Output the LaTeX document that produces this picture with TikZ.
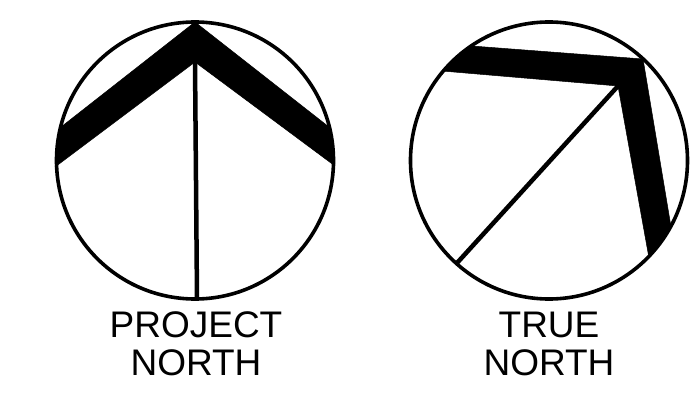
\documentclass[tikz,border=0pt]{standalone}
\usepackage{fontspec}
\setmainfont{Liberation Sans}
\usetikzlibrary{calc}
\begin{document}
\begin{tikzpicture}[
x=1pt,y=-1pt,
dial/.style={draw,circle,line width=3.6pt,minimum size=277pt,inner sep=0pt},
needle/.style={line width=4.5pt},
band/.style={fill=black,draw=black,line width=0.5pt,line join=round},
caption/.style={align=center,font=\fontsize{37}{38}\selectfont,inner sep=0pt},]
\useasboundingbox (0,0) rectangle (691,393);

\node[dial] (project) at (195,160.5) {};
\coordinate (pTip) at (195,22);
\coordinate (pLeftOut) at (61,127);
\coordinate (pLeftIn) at (55,167);
\coordinate (pRightOut) at (329,127);
\coordinate (pRightIn) at (335,166);
\coordinate (pInner) at (195,62);
\coordinate (pFoot) at (197,299);
\draw[band] (pTip) -- (pRightOut) -- (pRightIn) -- (pInner) -- (pLeftIn) -- (pLeftOut) -- cycle;
\draw[needle] (pInner) -- (pFoot);
\node[caption] (projectText) at (196,344) {PROJECT\\NORTH};

\node[dial] (true) at (549,160.5) {};
\coordinate (tTip) at (643,59);
\coordinate (tLeftOut) at (472,46);
\coordinate (tLeftIn) at (442,71);
\coordinate (tDownOut) at (671,227);
\coordinate (tDownIn) at (649,258);
\coordinate (tInner) at (618,86);
\coordinate (tFoot) at (457,263);
\draw[band] (tTip) -- (tDownOut) -- (tDownIn) -- (tInner) -- (tLeftIn) -- (tLeftOut) -- cycle;
\draw[needle] (tInner) -- (tFoot);
\node[caption] (trueText) at (549,344) {TRUE\\NORTH};
\end{tikzpicture}
\end{document}
